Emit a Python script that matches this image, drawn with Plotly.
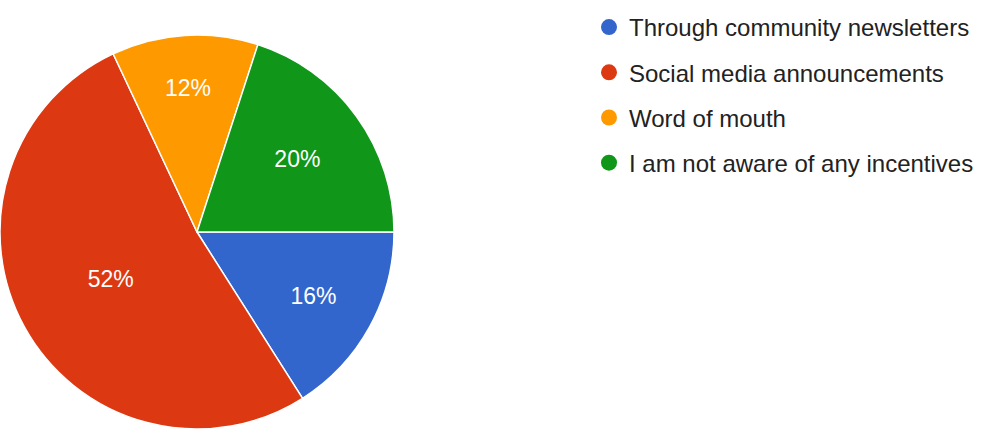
import plotly.graph_objects as go

# Survey responses: how people heard about the incentives
categories = [
    "Through community newsletters",
    "Social media announcements",
    "Word of mouth",
    "I am not aware of any incentives",
]
shares = [16, 52, 12, 20]
colors = ["#3366cc", "#dc3912", "#ff9900", "#109618"]

W, H = 990, 447

fig = go.Figure()

fig.add_trace(go.Pie(
    labels=categories,
    values=shares,
    sort=False,
    direction="clockwise",
    rotation=90,
    marker=dict(colors=colors, line=dict(color="white", width=1.5)),
    textinfo="percent",
    textposition="inside",
    insidetextorientation="horizontal",
    textfont=dict(family="Liberation Sans, Arial, sans-serif", size=23, color="white"),
    domain=dict(x=[0, 394 / W], y=[18 / H, 412 / H]),
    showlegend=False,
    hoverinfo="label+percent",
))

# Legend entries with round swatches, one group each so spacing can be set
for name, col in zip(categories, colors):
    fig.add_trace(go.Scatter(
        x=[None], y=[None],
        mode="markers",
        name=name,
        legendgroup=name,
        marker=dict(color=col, size=22, symbol="circle"),
        showlegend=True,
    ))

fig.update_layout(
    width=W, height=H,
    margin=dict(l=0, r=0, t=0, b=0),
    paper_bgcolor="white",
    plot_bgcolor="white",
    xaxis=dict(visible=False),
    yaxis=dict(visible=False),
    legend=dict(
        x=589 / W, y=1 - 5 / H, xanchor="left", yanchor="top",
        traceorder="grouped",
        tracegroupgap=11,
        font=dict(family="Liberation Sans, Arial, sans-serif", size=24, color="#222222"),
        bgcolor="rgba(0,0,0,0)",
    ),
)

fig.write_html("out.html")
